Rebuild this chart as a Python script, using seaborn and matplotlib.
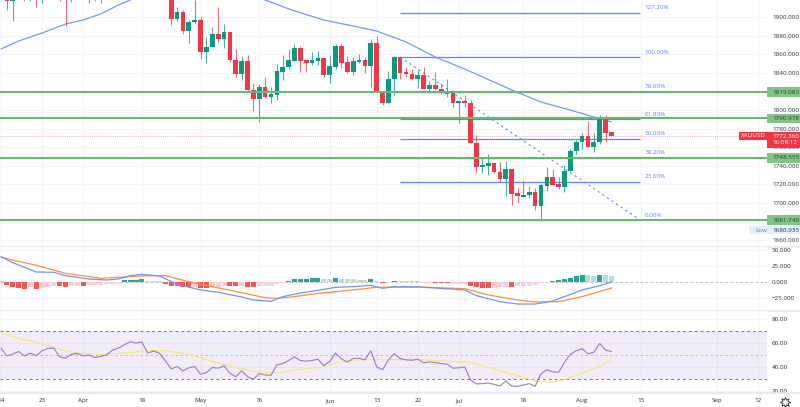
import matplotlib
matplotlib.use("Agg")
import matplotlib.pyplot as plt
import seaborn as sns
from matplotlib.patches import Rectangle
from matplotlib.transforms import blended_transform_factory

# ---- candles (bar number counted from the left edge, 14 Mar = bar 0)
candle_bars = [1, 2, 4, 5, 6, 7, 10, 11, 12, 15, 16, 17, 29] + list(range(30, 105))
opens = [1925, 1917, 1926, 1921, 1928, 1921, 1925, 1930, 1921, 1921, 1930, 1921, 1925,
         1897.9, 1905.4, 1885, 1894.7, 1896.8, 1862.4, 1867.8, 1881.7, 1876.4, 1883.9,
         1853.8, 1838.8, 1852.7, 1821.6, 1811.9, 1824.8, 1814, 1816.2, 1840.9, 1846.3,
         1852.7, 1866.7, 1853.8, 1850.6, 1852.7, 1856, 1837.7, 1846.3, 1868.9, 1851.7,
         1840.9, 1851.7, 1853.8, 1847.4, 1872.1, 1819.4, 1807.6, 1833.4, 1857, 1840.9,
         1838.8, 1833.4, 1837.7, 1822.6, 1826.9, 1822.6, 1820.5, 1818.3, 1807.6, 1809.7,
         1807.6, 1764.6, 1738.8, 1739.9, 1743.1, 1733.4, 1725.9, 1736.6, 1710.8, 1706.5,
         1708.7, 1711.9, 1696.8, 1718.4, 1728, 1720.5, 1717.3, 1734.5, 1756, 1765.7,
         1772.1, 1760.3, 1765.7, 1790.4, 1776.4]
closes = [1917, 1930, 1922, 1926, 1922, 1925, 1921, 1925, 1925, 1925, 1925, 1925, 1897.9,
          1905.4, 1885, 1894.7, 1896.8, 1862.4, 1867.8, 1881.7, 1876.4, 1883.9, 1853.8,
          1838.8, 1852.7, 1821.6, 1811.9, 1824.8, 1814, 1817.2, 1842, 1846.3, 1853.8,
          1866.7, 1852.7, 1850.6, 1853.8, 1856, 1837.7, 1847.4, 1868.9, 1850.6, 1840.9,
          1852.7, 1853.8, 1847.4, 1872.1, 1819.4, 1807.6, 1833.4, 1857, 1839.8, 1838.8,
          1833.4, 1837.7, 1822.6, 1826.9, 1822.6, 1819.4, 1817.2, 1807.6, 1809.7, 1807.6,
          1764.6, 1738.8, 1740.9, 1743.1, 1733.4, 1725.9, 1736.6, 1709.8, 1707.6, 1708.7,
          1711.9, 1696.8, 1719.4, 1728, 1719.4, 1717.3, 1734.5, 1756, 1765.7, 1772.1,
          1760.3, 1765.7, 1790.4, 1775.3, 1772.4]
highs = [1930, 1935, 1930, 1930, 1932, 1930, 1930, 1935, 1930, 1930, 1932, 1930, 1930,
         1910.8, 1907.5, 1896.8, 1918.3, 1900, 1878.5, 1889.3, 1910.8, 1892.5, 1883.9,
         1865.6, 1858.1, 1859.2, 1829.1, 1828, 1835.5, 1824.8, 1849.5, 1859.2, 1865.6,
         1871, 1868.9, 1853.8, 1862.4, 1863.5, 1856, 1859.2, 1871, 1871, 1858.1, 1857,
         1860.3, 1857, 1876.4, 1879.6, 1819.4, 1842, 1858.1, 1857, 1846.3, 1844.1, 1843.1,
         1846.3, 1831.2, 1840.9, 1829.1, 1833.4, 1821.6, 1809.7, 1816.2, 1810.8, 1773.2,
         1748.4, 1752.8, 1743.1, 1744.2, 1745.2, 1736.6, 1717.3, 1723.7, 1718.3, 1716.2,
         1720.5, 1738.8, 1736.6, 1728, 1740.9, 1758.1, 1767.8, 1775.3, 1788.2, 1775.3,
         1794.7, 1794.7, 1776.4]
lows = [1907.5, 1895.7, 1917, 1917, 1910.8, 1915, 1917, 1890.3, 1916, 1915, 1917, 1915,
        1891.4, 1895.7, 1881.7, 1872.1, 1892.5, 1854.9, 1850.6, 1867.8, 1873.2, 1866.7,
        1851.7, 1835.5, 1832.3, 1821.6, 1799, 1787.2, 1813, 1807.6, 1810.8, 1832.3,
        1844.1, 1852.7, 1840.9, 1840.9, 1848.4, 1848.4, 1835.5, 1829.1, 1844.1, 1845.2,
        1839.8, 1837.7, 1850.6, 1839.8, 1824.8, 1819.4, 1805.4, 1807.6, 1816.2, 1833.4,
        1835.5, 1832.3, 1823.7, 1822.6, 1818.3, 1821.6, 1817.2, 1814, 1803.3, 1786.1,
        1803.3, 1764.6, 1732.3, 1732.3, 1730.2, 1732.3, 1722.7, 1707.6, 1697.9, 1700,
        1706.5, 1705.4, 1692.5, 1680.9, 1713, 1719.4, 1715.1, 1711.9, 1734.5, 1752.8,
        1758.1, 1760.3, 1754.9, 1763.5, 1765.7, 1772.4]

ma_bars = [0, 3, 7, 11, 14, 17, 20, 22, 26, 33, 39, 43, 45, 50, 55, 60, 64, 69, 74, 79,
           87, 92, 97, 101, 104]
ma_vals = [1865.6, 1874.2, 1882.8, 1892.5, 1896.8, 1903.3, 1912.9, 1918.3, 1928, 1942,
           1938, 1925, 1918.3, 1906.5, 1896.8, 1890.3, 1885, 1873.2, 1857, 1844.1, 1821.6,
           1808.6, 1800, 1792.5, 1787.2]

# ---- drawn levels
green_levels = [1819.083, 1790.978, 1748.555, 1681.740]
fib_levels = [1904.7, 1857.0, 1819.5, 1790.1, 1769.4, 1748.7, 1723.1, 1681.74]
fib_names = ["127.20%", "100.00%", "78.60%", "61.80%", "50.00%", "38.20%", "23.60%", "0.00%"]
fib_span = [68, 108.9]
trend_y = [1857.0, 1681.74]
last_price = 1772.36
low_price = 1680.935

# ---- MACD pane
macd_hist = [1.5, -4.6, -7.7, -8.7, -10.3, -8.2, -10.3, -9.8, -7.7, -5.7, -6.7, -7.7, -6.7,
             -6.7, -6.7, -5.1, -5.1, -4.6, -3.6, -2.6, -1, 2.6, 3.1, 3.6, 5.1, 2, 1.5, 1,
             -2.6, -5.7, -6.7, -8.2, -8.2, -7.2, -9.8, -9.8, -7.2, -7.2, -6.7, -6.7, -6.7,
             -6.7, -7.7, -8.2, -6.7, -6.2, -5.7, -3.6, -1, 2, 4.6, 4.6, 4.6, 5.7, 5.7, 5.1,
             4.6, 5.7, 4.1, 4.1, 4.1, 3.1, 3.1, 4.1, 1.5, -1, 0.5, 1.5, 1.5, 1, 1, 1.5, -1,
             -1, -1.5, -1.5, -1.5, -2.6, -2.6, -2.6, -5.7, -7.7, -8.7, -8.7, -8.7, -7.7,
             -7.7, -7.7, -6.7, -6.2, -5.7, -4.6, -2, 0.5, 1.5, 3.1, 4.1, 6.2, 8.7, 10.8,
             10.3, 9.3, 11.3, 10.3, 9.8]
hist_shade = ("l" "dddd" "l" "d" "lll" "dd" "ll" "d" "llllll"
              "dddd" "lll" "ddddd" "l" "dd" "lll" "dd" "l" "dd" "lllll"
              "dddddd" "ll" "d" "lllll" "d" "l" "d" "l" "d" "llllll" "ddd" "lll"
              "dddd" "lll" "d" "llllll" "dddddd" "ll" "d" "ll")
macd_bars = [0, 2, 3, 6, 9, 11, 15, 18, 20, 22, 24, 27, 30, 34, 37, 41, 43, 46, 48, 51, 54,
             57, 60, 63, 65, 67, 71, 74, 79, 81, 85, 88, 91, 94, 96, 99, 102, 104]
macd_line = [39.1, 29.8, 26.2, 15.4, 14.9, 9.8, 4.6, 3.1, 4.6, 9.8, 11.8, 9.3, -3.6, -12.3,
             -15.9, -23.1, -27.8, -29.8, -22.6, -17, -12.9, -8.2, -7.2, -5.1, -9.8, -7.2,
             -7.7, -9.3, -12.3, -21.1, -30.3, -34, -34, -29.3, -22.6, -12.3, -5.7, 0]
signal_bars = [0, 6, 11, 17, 21, 24, 28, 32, 36, 41, 45, 47, 50, 54, 60, 64, 71, 79, 83, 88,
               91, 95, 99, 104]
signal_line = [38.1, 25.7, 13.4, 5.7, 7.7, 9.3, 9.8, 0.5, -7.2, -16.5, -24.2, -25.2, -22.6,
               -17.5, -12.3, -8.2, -7.7, -10.3, -20, -27.8, -30.9, -30.3, -22.6, -9.3]

# ---- RSI pane
rsi = [55.8, 49.3, 50.7, 53, 49.3, 51.6, 49.3, 53.6, 55.5, 55.8, 48.5, 47.3, 50.7, 51.3,
       49.3, 49.9, 47.9, 48.8, 50.2, 54.1, 55.8, 58.6, 61.2, 60.1, 60.9, 51.6, 53.3, 51.6,
       45.1, 38.3, 40.3, 36.6, 39.2, 40.3, 33.8, 35.2, 39.4, 38.9, 40.8, 34.6, 31.8, 36.6,
       31.8, 29.5, 34.4, 33.2, 32.9, 41.7, 42.8, 45.4, 48.5, 45.4, 44.8, 45.4, 46.5, 41.1,
       44.5, 51.6, 46.8, 44, 47.1, 47.3, 45.9, 53.6, 40, 37.7, 45.9, 51, 47.1, 45.9, 45.6,
       46.5, 43.4, 44.2, 43.7, 42.8, 42.3, 38.9, 39.2, 40, 29, 25.6, 25.9, 26.4, 25.3, 23.9,
       28.1, 23.9, 23.6, 24.7, 25.9, 23.6, 34.1, 37.7, 35.8, 35.5, 44, 50.5, 53.6, 55.3, 51,
       52.4, 59.8, 54.1, 53]
rsi_ma_bars = [0, 3, 7, 10, 13, 17, 22, 25, 28, 32, 36, 40, 43, 47, 51, 55, 58, 61, 66, 72,
               75, 78, 80, 84, 88, 91, 94, 96, 99, 102, 104]
rsi_ma = [68.5, 64, 59.5, 54.7, 51.6, 50.5, 52.1, 53.6, 53.6, 50.7, 44.5, 39.4, 36, 34.9, 38,
          40, 44.8, 45.9, 46.2, 45.9, 45.1, 44.2, 44, 38.3, 32.7, 28.1, 27, 29.3, 34.6, 40.3,
          45.6]

# ---- axis ticks
time_ticks = [0, 7, 14, 24, 34, 44, 56, 64, 71, 78, 89, 99, 109, 122, 129]
time_labels = ["14", "23", "Apr", "18", "May", "16", "Jun", "13", "22", "Jul", "18", "Aug",
               "15", "Sep", "12"]
price_ticks = [1660, 1680, 1700, 1720, 1740, 1760, 1780, 1800, 1820, 1840, 1860, 1880, 1900]
macd_ticks = [-25, 0, 25, 50]
rsi_ticks = [20, 40, 60, 80]

WIDTH, HEIGHT = 800, 407
PANE_RIGHT = 767
RED, GREEN = "#f23645", "#089981"
BLUE = "#5c86fb"
GRID = "#f3f4f8"
TEXT = "#2a2e39"
FS = 4.5

sns.set_theme(style="white")
plt.rcParams["font.family"] = ["Open Sans", "DejaVu Sans"]

fig = plt.figure(figsize=(WIDTH / 100, HEIGHT / 100), dpi=100, facecolor="white")


def make_pane(top, bottom, ylim, ticks, labels):
    ax = fig.add_axes([0, 1 - bottom / HEIGHT, PANE_RIGHT / WIDTH, (bottom - top) / HEIGHT])
    ax.set_xlim(-0.17, 130.5)
    ax.set_ylim(*ylim)
    ax.set_xticks(time_ticks)
    ax.set_xticklabels([])
    ax.set_yticks(ticks)
    ax.set_yticklabels(labels)
    ax.yaxis.tick_right()
    ax.tick_params(axis="y", length=0, pad=3.6, labelsize=FS, labelcolor=TEXT)
    ax.tick_params(axis="x", length=0, pad=3.5, labelsize=FS, labelcolor=TEXT)
    ax.grid(True, color=GRID, lw=0.8)
    ax.set_axisbelow(True)
    for spine in ax.spines.values():
        spine.set_visible(False)
    # pane separator runs on through the price scale
    ax.plot([0, WIDTH / PANE_RIGHT], [0, 0], transform=ax.transAxes, clip_on=False,
            color="#e6e8ef", lw=1.2, zorder=5)
    ax.set_xlabel("")
    ax.set_ylabel("")
    return ax


def scale_tag(ax, price, height, text, face, color="white", left=PANE_RIGHT):
    # coloured box on the price scale, x in pixels, y in data units
    trans = blended_transform_factory(ax.transAxes, ax.transData)
    ax.add_patch(Rectangle((left / PANE_RIGHT, price - height / 2), (WIDTH - left) / PANE_RIGHT,
                           height, transform=trans, clip_on=False, facecolor=face,
                           edgecolor="none", zorder=10))
    ax.text((PANE_RIGHT + 5) / PANE_RIGHT, price, text, transform=trans, color=color,
            fontsize=FS, va="center", ha="left", clip_on=False, zorder=11)


# the 1680 and 1820 labels sit wholly behind the level tags
price_labels = ["" if v in (1680, 1820) else f"{v:.3f}" for v in price_ticks]
ax_price = make_pane(0, 247, (1652.8, 1918.3), price_ticks, price_labels)
ax_macd = make_pane(247, 310.5, (-44, 54), macd_ticks,
                    [f"{v:.3f}".replace("-", "\u2212") for v in macd_ticks])
ax_rsi = make_pane(310.5, 393, (18, 87.5), rsi_ticks, [f"{v:.2f}" for v in rsi_ticks])
ax_rsi.set_xticklabels(time_labels)

# price pane
ax_price.hlines(fib_levels, fib_span[0], fib_span[1], color=BLUE, lw=0.9, zorder=2)
for level, name in zip(fib_levels, fib_names):
    ax_price.annotate(name, (fib_span[1], level), xytext=(2.9, 3.6), textcoords="offset points",
                      color=BLUE, fontsize=FS, va="center", ha="left", zorder=6)
sns.lineplot(x=fib_span, y=trend_y, ax=ax_price, color=BLUE, lw=0.8, estimator=None,
             linestyle=(0, (2, 3)), zorder=2)
sns.lineplot(x=ma_bars, y=ma_vals, ax=ax_price, color="#7398fb", lw=0.9, estimator=None, zorder=3)

candle_colors = [GREEN if c >= o else RED for o, c in zip(opens, closes)]
ax_price.vlines(candle_bars, lows, highs, colors=candle_colors, lw=0.75, alpha=0.75, zorder=3)
ax_price.bar(candle_bars, [max(abs(c - o), 0.8) for o, c in zip(opens, closes)],
             bottom=[min(o, c) for o, c in zip(opens, closes)], width=0.8,
             color=candle_colors, linewidth=0, zorder=4)

ax_price.axhline(last_price, color=RED, lw=0.6, ls=(0, (1, 1.5)), alpha=0.5, zorder=4)
for level in green_levels:
    ax_price.axhline(level, color="#66bb6a", lw=1.5, zorder=5)
    scale_tag(ax_price, level, 10.5, f"{level:.3f}", "#81c784", color=TEXT)

scale_tag(ax_price, last_price - 4.3, 17, f"{last_price:.3f}\n16:08:12", RED)
scale_tag(ax_price, low_price - 10, 8.5, f"{low_price:.3f}", "#e3effd", color=TEXT, left=749)
trans_price = blended_transform_factory(ax_price.transAxes, ax_price.transData)
ax_price.text(755 / PANE_RIGHT, low_price - 10, "Low", color="#787b86", fontsize=FS, va="center",
              transform=trans_price, clip_on=False, zorder=11)
ax_price.add_patch(Rectangle((739 / PANE_RIGHT, last_price - 4.3), 28 / PANE_RIGHT, 8.6,
                             transform=trans_price, clip_on=False, facecolor=RED,
                             edgecolor="none", zorder=10))
ax_price.text(753 / PANE_RIGHT, last_price, "XAUUSD", transform=trans_price, color="white",
              fontsize=FS, ha="center", va="center", clip_on=False, zorder=11)
ax_price.text((PANE_RIGHT + 5) / PANE_RIGHT, 1920, "1920.000", transform=trans_price,
              color=TEXT, fontsize=FS, va="center", clip_on=False)

# MACD pane
ax_macd.axhline(0, color="#787b86", lw=0.6, ls=(0, (3, 3)), alpha=0.5, zorder=1)
hist_colors = []
for value, shade in zip(macd_hist, hist_shade):
    if value >= 0:
        hist_colors.append("#26a69a" if shade == "d" else "#b2dfdb")
    else:
        hist_colors.append("#ff5252" if shade == "d" else "#ffcdd2")
ax_macd.bar(range(len(macd_hist)), macd_hist, width=0.86, color=hist_colors, linewidth=0, zorder=2)
sns.lineplot(x=signal_bars, y=signal_line, ax=ax_macd, color="#ff8f3a", lw=0.9, estimator=None, zorder=3)
sns.lineplot(x=macd_bars, y=macd_line, ax=ax_macd, color="#6f94fb", lw=0.9, estimator=None, zorder=4)

# RSI pane
ax_rsi.axhspan(30, 70, color="#7e57c2", alpha=0.1, lw=0, zorder=1)
ax_rsi.axhline(70, color="#787b86", lw=0.7, ls=(0, (3, 3)), zorder=2)
ax_rsi.axhline(50, color="#787b86", lw=0.6, ls=(0, (3, 3)), alpha=0.5, zorder=2)
ax_rsi.axhline(30, color="#787b86", lw=0.7, ls=(0, (3, 3)), zorder=2)
sns.lineplot(x=rsi_ma_bars, y=rsi_ma, ax=ax_rsi, color="#f9e67a", lw=0.9, estimator=None, zorder=3)
sns.lineplot(x=list(range(len(rsi))), y=rsi, ax=ax_rsi, color="#9678cf", lw=0.8, estimator=None, zorder=4)
ax_rsi.plot([785 / PANE_RIGHT], [-0.105], transform=ax_rsi.transAxes, clip_on=False, marker=(8, 1, 0),
            ms=7.5, mfc="white", mec=TEXT, mew=0.6, ls="none", zorder=6)
ax_rsi.set_xlabel("")
ax_rsi.set_ylabel("")

fig.savefig("out.png", dpi=100)
